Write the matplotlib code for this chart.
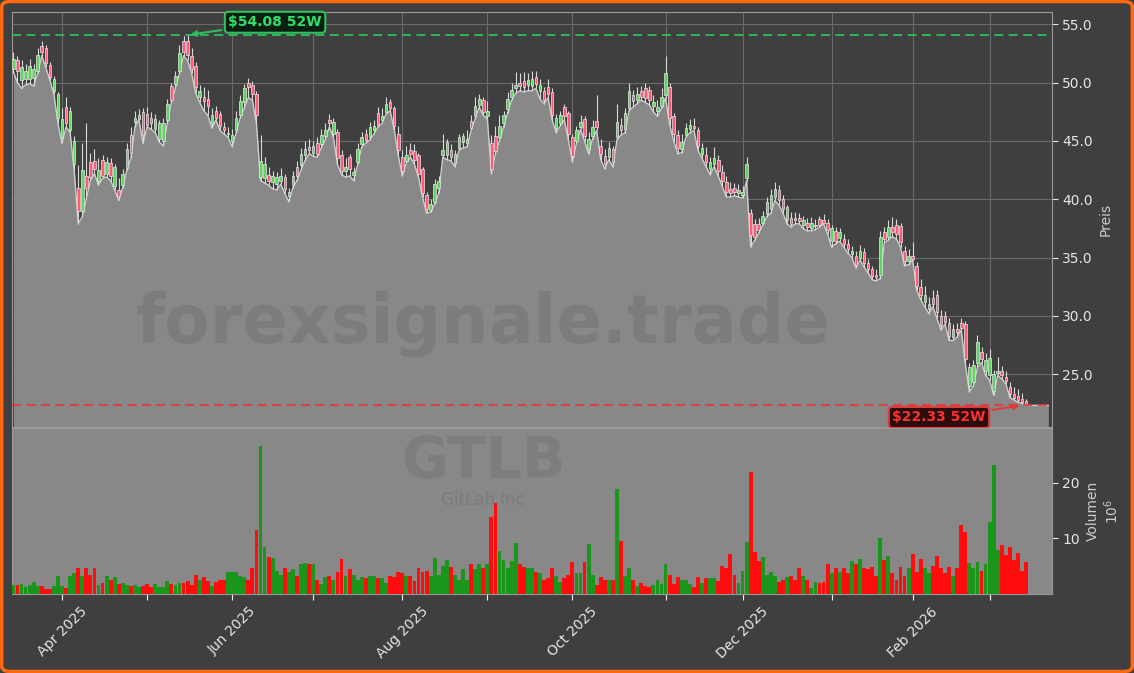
import numpy as np
import pandas as pd
import matplotlib
matplotlib.use("Agg")
import matplotlib.pyplot as plt
from matplotlib.patches import Rectangle, FancyBboxPatch
from matplotlib.ticker import FixedLocator, FormatStrFormatter

# ---------------- data ----------------
ticker = "GTLB"
company = "GitLab Inc"
watermark = "forexsignale.trade"
high_52w = 54.08
low_52w = 22.33

holidays = ["2025-04-18", "2025-05-26", "2025-06-19", "2025-07-04", "2025-09-01",
            "2025-11-27", "2025-12-25", "2026-01-01", "2026-01-19", "2026-02-16"]
dates = pd.bdate_range("2025-03-14", "2026-03-13")
dates = dates[~dates.isin(pd.to_datetime(holidays))]

low = [50.9, 50.0, 49.5, 49.8, 49.9, 49.7, 50.8, 52.3, 51.3, 50.2,
       49.0, 46.5, 44.8, 46.2, 45.7, 42.5, 37.9, 38.5, 40.0, 41.6,
       42.2, 41.2, 41.8, 41.9, 41.6, 40.8, 39.9, 41.0, 42.5, 43.5,
       46.2, 46.8, 44.8, 46.2, 46.0, 45.7, 44.9, 44.6, 46.5, 48.3,
       49.5, 50.8, 52.3, 51.9, 50.8, 49.1, 48.3, 47.6, 47.2, 46.1,
       46.8, 45.9, 45.6, 45.3, 44.5, 45.7, 47.0, 47.8, 48.7, 48.5,
       46.5, 41.6, 41.4, 41.2, 40.9, 40.8, 41.3, 40.5, 39.8, 41.0,
       41.6, 42.5, 43.3, 43.9, 43.7, 43.6, 44.4, 45.1, 46.2, 45.3,
       43.0, 42.1, 41.9, 42.0, 41.6, 43.0, 44.5, 44.8, 45.1, 45.6,
       46.2, 46.5, 47.3, 47.6, 46.0, 43.8, 42.0, 43.1, 43.6, 43.0,
       41.9, 40.2, 38.8, 38.9, 39.6, 40.5, 43.6, 43.4, 43.3, 42.8,
       44.2, 44.4, 44.5, 45.9, 46.9, 47.9, 47.2, 46.9, 42.2, 43.9,
       45.0, 46.2, 47.4, 48.5, 49.1, 49.3, 49.2, 49.3, 49.3, 49.5,
       48.6, 48.2, 48.7, 46.8, 45.7, 46.3, 46.8, 45.1, 43.2, 44.8,
       46.0, 45.0, 43.9, 45.2, 45.9, 43.4, 42.6, 43.4, 42.8, 45.1,
       45.5, 45.7, 47.6, 47.9, 48.2, 48.5, 48.3, 48.1, 47.5, 47.1,
       47.8, 48.7, 46.4, 45.0, 43.9, 44.0, 45.3, 45.7, 45.9, 44.2,
       43.5, 42.8, 42.1, 42.8, 42.0, 41.1, 40.2, 40.2, 40.3, 40.2,
       40.1, 41.6, 35.9, 36.5, 37.1, 37.8, 38.5, 38.8, 39.9, 39.5,
       38.8, 37.9, 37.6, 37.9, 37.9, 37.5, 37.3, 37.3, 37.4, 37.6,
       37.9, 37.0, 35.9, 36.2, 36.4, 35.9, 35.4, 35.0, 34.1, 34.8,
       34.2, 33.7, 33.1, 33.0, 33.2, 36.3, 36.5, 36.8, 36.6, 35.9,
       34.3, 34.4, 34.8, 32.2, 31.4, 30.8, 30.2, 30.8, 29.8, 28.8,
       29.3, 27.9, 27.9, 28.2, 28.8, 25.9, 23.5, 24.0, 25.6, 26.0,
       24.9, 24.5, 23.2, 24.9, 24.6, 24.2, 23.0, 22.8, 22.6, 22.5,
       22.33]

open_ = [51.2, 51.9, 50.2, 50.3, 50.3, 50.4, 51.0, 53.1, 53.0, 51.5,
         49.3, 47.0, 45.3, 47.9, 45.9, 43.0, 41.0, 39.0, 42.0, 43.2,
         43.3, 41.6, 43.4, 42.2, 43.1, 41.1, 40.8, 41.2, 42.7, 45.5,
         46.6, 46.9, 47.5, 47.3, 47.0, 46.0, 45.2, 45.0, 46.8, 49.7,
         49.9, 51.0, 53.6, 53.6, 52.3, 51.4, 48.8, 48.8, 48.6, 46.5,
         47.6, 47.3, 46.2, 45.6, 45.0, 45.9, 47.2, 48.3, 50.0, 49.8,
         49.0, 41.9, 41.8, 42.1, 41.5, 41.3, 41.6, 41.9, 40.3, 41.2,
         42.8, 42.9, 43.8, 44.5, 44.0, 44.8, 44.7, 45.4, 46.8, 45.6,
         45.8, 43.8, 42.4, 43.6, 42.1, 43.2, 44.7, 45.6, 45.3, 45.9,
         47.4, 46.8, 47.5, 48.3, 47.8, 45.6, 43.6, 43.3, 44.2, 44.1,
         43.8, 42.6, 40.4, 39.1, 39.8, 41.0, 43.8, 43.8, 44.2, 43.1,
         44.4, 44.9, 44.8, 46.7, 47.1, 48.1, 48.5, 47.1, 44.8, 45.4,
         45.3, 46.5, 47.7, 48.8, 49.5, 50.0, 50.1, 49.8, 49.7, 50.5,
         49.3, 49.3, 49.6, 49.2, 46.1, 46.5, 47.9, 47.4, 45.3, 45.0,
         46.2, 46.9, 44.3, 45.4, 46.7, 44.6, 43.7, 43.6, 44.3, 45.3,
         46.4, 46.0, 47.8, 48.9, 48.5, 49.3, 49.5, 49.4, 48.0, 47.6,
         48.0, 48.9, 49.6, 47.1, 45.5, 44.3, 45.5, 46.0, 46.3, 45.9,
         43.9, 43.8, 42.6, 43.0, 43.4, 42.3, 41.5, 40.9, 41.0, 40.5,
         40.4, 41.8, 38.8, 37.9, 37.9, 38.0, 38.7, 39.2, 40.2, 40.8,
         40.0, 38.2, 38.4, 38.4, 38.4, 37.8, 38.0, 37.5, 37.7, 38.3,
         38.2, 38.0, 36.4, 37.3, 36.7, 36.6, 36.2, 35.3, 35.1, 35.0,
         35.5, 34.5, 34.0, 33.5, 33.5, 37.2, 36.8, 37.6, 37.8, 37.7,
         35.6, 34.7, 35.1, 34.3, 32.5, 31.2, 30.6, 31.5, 31.8, 30.0,
         30.0, 29.4, 28.2, 28.9, 29.4, 29.3, 24.0, 24.3, 26.0, 26.9,
         25.3, 24.9, 23.6, 25.1, 25.3, 24.8, 23.9, 23.3, 23.1, 22.9,
         22.7]

close = [52.0, 51.0, 51.3, 51.0, 51.4, 51.2, 52.4, 52.6, 51.7, 50.5,
         50.3, 49.0, 46.9, 46.5, 47.6, 45.0, 39.0, 42.5, 41.0, 41.9,
         42.6, 42.5, 42.0, 43.2, 42.0, 42.8, 40.3, 42.2, 44.3, 44.0,
         47.0, 47.2, 45.5, 46.4, 46.5, 46.9, 46.5, 46.5, 48.2, 48.5,
         50.6, 52.5, 52.6, 52.4, 51.2, 49.6, 49.3, 48.4, 48.0, 47.2,
         47.0, 46.3, 45.9, 45.7, 45.5, 47.0, 48.4, 49.5, 49.6, 49.0,
         47.2, 43.3, 43.0, 41.6, 42.0, 41.9, 42.0, 40.9, 40.6, 42.0,
         42.0, 43.9, 44.3, 44.2, 44.6, 43.9, 45.5, 45.9, 46.5, 46.6,
         43.5, 42.4, 42.8, 42.6, 42.3, 44.3, 45.3, 45.1, 46.2, 46.3,
         46.4, 47.1, 48.2, 47.8, 46.3, 44.2, 42.4, 43.8, 43.9, 43.4,
         42.2, 40.5, 39.2, 39.6, 41.3, 41.6, 44.2, 44.9, 43.6, 43.9,
         45.3, 45.4, 45.2, 46.1, 48.0, 48.6, 47.5, 47.6, 42.6, 44.1,
         46.3, 47.2, 48.6, 49.4, 49.8, 49.7, 49.6, 50.2, 50.3, 49.9,
         49.8, 48.5, 49.0, 47.2, 47.0, 47.2, 47.1, 45.6, 43.7, 45.9,
         46.6, 45.4, 45.2, 46.2, 46.2, 43.9, 43.0, 44.4, 43.2, 46.6,
         45.9, 47.4, 49.3, 48.4, 49.0, 48.8, 48.7, 48.5, 48.3, 47.9,
         48.8, 50.8, 47.0, 45.6, 44.4, 44.9, 46.1, 46.4, 46.1, 44.6,
         44.4, 43.2, 43.2, 43.5, 42.4, 41.6, 40.6, 40.5, 40.6, 40.8,
         40.6, 43.0, 36.9, 36.8, 37.4, 38.6, 39.8, 40.4, 40.9, 39.9,
         39.2, 39.3, 37.9, 38.2, 38.1, 38.2, 37.6, 38.0, 37.8, 37.8,
         38.0, 37.4, 37.5, 36.4, 37.2, 36.2, 35.7, 35.6, 34.4, 35.6,
         34.5, 34.0, 33.4, 33.3, 36.8, 36.6, 37.6, 37.2, 37.0, 36.3,
         34.7, 35.1, 34.9, 32.6, 31.8, 31.8, 31.0, 31.0, 30.3, 29.2,
         29.5, 28.3, 28.9, 28.6, 29.0, 26.3, 25.6, 25.8, 27.8, 26.3,
         26.2, 26.4, 25.0, 25.3, 24.9, 24.4, 23.3, 23.0, 22.8, 22.6,
         22.4]

high = [52.6, 52.3, 51.9, 51.6, 52.0, 51.6, 53.0, 53.6, 53.2, 51.8,
        50.6, 49.2, 47.8, 48.8, 47.9, 45.4, 42.9, 44.8, 46.5, 44.0,
        44.3, 43.5, 43.8, 43.6, 43.5, 43.0, 41.8, 42.6, 44.8, 46.2,
        47.6, 47.7, 47.8, 47.9, 47.5, 47.3, 46.8, 47.0, 48.6, 50.0,
        51.0, 53.2, 54.0, 54.08, 53.0, 51.8, 49.8, 49.6, 49.4, 47.8,
        48.0, 47.6, 46.6, 46.2, 46.0, 47.6, 48.9, 49.9, 50.4, 50.1,
        49.3, 45.5, 43.6, 42.8, 42.4, 42.3, 42.7, 42.2, 41.0, 42.4,
        43.3, 44.4, 45.0, 45.2, 45.0, 45.3, 46.0, 46.5, 47.3, 47.0,
        46.0, 44.2, 43.5, 43.9, 42.8, 44.8, 45.8, 46.0, 46.6, 46.8,
        47.9, 47.8, 48.8, 48.6, 48.0, 46.3, 44.2, 44.6, 44.8, 44.7,
        44.0, 42.8, 40.6, 40.0, 41.7, 42.0, 45.6, 45.2, 44.7, 44.2,
        45.6, 45.7, 45.9, 47.2, 48.8, 49.0, 48.8, 48.4, 45.5, 46.3,
        47.2, 47.6, 49.2, 50.0, 50.9, 50.8, 50.9, 50.8, 51.0, 51.0,
        50.3, 49.6, 50.3, 49.5, 47.3, 47.6, 48.2, 47.6, 45.6, 46.3,
        47.2, 47.1, 45.8, 46.8, 48.9, 45.2, 44.3, 44.9, 44.6, 48.2,
        47.0, 47.8, 50.0, 49.4, 49.6, 49.7, 50.0, 49.7, 48.9, 48.5,
        49.5, 52.3, 50.0, 47.4, 45.9, 45.6, 46.5, 46.9, 47.0, 46.2,
        44.8, 44.5, 43.6, 44.5, 43.8, 42.9, 42.0, 41.5, 41.4, 41.3,
        41.1, 43.6, 39.2, 38.3, 38.4, 39.0, 40.2, 40.9, 41.5, 41.2,
        40.4, 39.5, 38.9, 38.9, 38.8, 38.6, 38.4, 38.5, 38.3, 38.6,
        38.7, 38.3, 37.8, 37.6, 37.5, 37.0, 36.6, 36.0, 35.6, 36.1,
        35.8, 34.9, 34.3, 34.0, 37.3, 37.6, 38.2, 38.5, 38.3, 38.0,
        36.0, 35.7, 36.3, 34.6, 33.2, 32.6, 31.6, 32.2, 32.2, 30.5,
        30.4, 29.8, 29.3, 29.4, 29.8, 29.6, 26.0, 26.2, 28.4, 27.3,
        26.8, 27.2, 25.4, 26.5, 25.7, 25.3, 24.3, 23.9, 23.7, 23.4,
        22.9]

volume = [1.6, 1.6, 1.75, 1.3, 1.6, 2.1, 1.4, 1.4, 0.9, 0.9,
          1.4, 3.2, 1.4, 1.0, 3.3, 3.7, 4.7, 3.3, 4.7, 3.5,
          4.7, 1.6, 1.9, 3.3, 2.6, 3.0, 1.75, 1.9, 1.6, 1.4,
          1.6, 1.2, 1.4, 1.75, 1.2, 1.75, 1.2, 1.2, 2.3, 1.75,
          1.6, 1.9, 1.9, 2.3, 1.6, 3.5, 2.6, 3.0, 2.3, 1.4,
          2.1, 2.5, 2.6, 4.0, 3.9, 3.9, 3.2, 3.0, 2.5, 4.7,
          11.4, 26.5, 8.4, 6.7, 6.5, 4.2, 3.5, 4.7, 3.9, 4.4,
          3.2, 5.4, 5.6, 5.3, 5.4, 2.5, 1.75, 3.0, 3.3, 2.5,
          4.0, 6.3, 3.3, 4.4, 3.5, 2.6, 3.0, 2.8, 3.3, 3.3,
          2.8, 2.8, 1.9, 3.2, 3.0, 3.9, 3.7, 3.3, 3.2, 2.3,
          4.6, 4.0, 4.2, 3.3, 6.5, 3.5, 5.1, 6.1, 4.9, 3.5,
          2.5, 4.4, 2.5, 5.3, 4.4, 5.4, 4.6, 5.4, 13.9, 16.3,
          7.7, 6.1, 4.7, 6.0, 9.1, 5.3, 4.9, 4.6, 4.6, 3.9,
          3.7, 2.6, 2.8, 4.7, 3.2, 2.1, 2.8, 3.5, 5.8, 3.7,
          3.7, 5.8, 8.9, 3.5, 1.6, 3.0, 2.6, 2.5, 2.5, 18.9,
          9.6, 3.2, 4.7, 2.6, 1.4, 1.9, 1.4, 1.2, 1.6, 2.5,
          1.75, 5.3, 3.5, 1.75, 3.0, 2.6, 2.6, 1.75, 1.2, 3.0,
          1.9, 2.8, 2.8, 2.8, 2.3, 5.1, 4.7, 7.2, 3.5, 1.9,
          4.2, 9.3, 21.9, 7.5, 6.0, 6.7, 3.5, 3.9, 3.2, 2.1,
          2.6, 3.0, 3.3, 2.5, 4.7, 3.3, 2.5, 1.1, 2.1, 1.9,
          2.1, 5.3, 3.7, 4.6, 4.0, 4.7, 3.7, 6.0, 5.3, 6.3,
          4.6, 4.4, 4.9, 3.3, 10.0, 6.1, 6.8, 3.7, 2.6, 4.9,
          3.2, 4.7, 7.2, 3.9, 6.3, 4.7, 3.7, 5.1, 6.8, 4.7,
          3.7, 4.9, 3.3, 4.6, 12.3, 11.1, 5.6, 4.7, 5.8, 4.2,
          5.3, 13.0, 23.2, 7.9, 8.8, 7.0, 8.4, 6.1, 7.4, 4.2,
          5.8]

labeled_months = [4, 6, 8, 10, 12, 2]

# ---------------- style ----------------
BG = "#3f3f3f"
FILL = "#888888"
TXT = "#e6e6e6"
UP = "#5cd65c"
DOWN = "#ff5a7a"
VUP = "#1a961a"
VDOWN = "#ff0d0d"

fig = plt.figure(figsize=(11.34, 6.73), dpi=100, facecolor=BG)
ax = fig.add_axes([12/1134, 1-427/673, 1040/1134, 415/673])
axv = fig.add_axes([12/1134, 1-594/673, 1040/1134, 166/673], sharex=ax)

n = len(close)
x = np.arange(n)
o = np.array(open_); c = np.array(close); h = np.array(high); l = np.array(low)
up = c >= o

# price panel
ax.set_facecolor(BG)
ax.set_ylim(20.48, 56.05)
ax.grid(True, color="#6a6a6a", lw=0.8, zorder=0)
ax.set_axisbelow(True)
fx = np.append(x, n + 4.5)
fl = np.append(l, l[-1])
ax.fill_between(fx, fl, 20.48, color=FILL, zorder=2, lw=0)
ax.plot(fx, fl, color="#cfcfcf", lw=1.0, zorder=3)

for i in range(n):
    col = UP if up[i] else DOWN
    ax.vlines(x[i], l[i], h[i], color="#d9d9d9", lw=0.8, zorder=4)
    b0 = min(o[i], c[i]); bh = max(abs(c[i] - o[i]), 0.12)
    ax.add_patch(Rectangle((x[i] - 0.32, b0), 0.64, bh, facecolor=col,
                           edgecolor="#e8e8e8", lw=0.5, zorder=5))

ax.axhline(high_52w, color="#2fbf5f", lw=1.3, ls=(0, (5, 3)), zorder=6)
ax.axhline(low_52w, color="#e03a3a", lw=1.3, ls=(0, (5, 3)), zorder=6)

ax.annotate(f"${high_52w:.2f} 52W", xy=(43, high_52w), xytext=(64.6, 55.17),
            ha="center", va="center", color="#2ee06a", fontsize=10, fontweight="bold",
            bbox=dict(boxstyle="round,pad=0.25", fc="#0b1f10", ec="#2fbf5f", lw=1.5),
            arrowprops=dict(arrowstyle="-|>", color="#2fbf5f", lw=1.5, mutation_scale=8),
            zorder=10)
ax.annotate(f"${low_52w:.2f} 52W", xy=(249.1, low_52w), xytext=(228.5, 21.3),
            ha="center", va="center", color="#ff3030", fontsize=10, fontweight="bold",
            bbox=dict(boxstyle="round,pad=0.25", fc="#2a0c0c", ec="#e03a3a", lw=1.5),
            arrowprops=dict(arrowstyle="-|>", color="#e03a3a", lw=1.5, mutation_scale=8),
            zorder=10)

ax.text(0.453, 0.248, watermark, transform=ax.transAxes, ha="center", va="center",
        fontsize=48, fontweight="bold", color="#555555", alpha=0.22, zorder=3.5)

ax.yaxis.tick_right()
ax.yaxis.set_label_position("right")
ax.yaxis.set_major_locator(FixedLocator([25, 30, 35, 40, 45, 50, 55]))
ax.yaxis.set_major_formatter(FormatStrFormatter("%.1f"))
ax.set_ylabel("Preis", color="#cccccc", fontsize=10, labelpad=4)
ax.tick_params(axis="y", colors=TXT, labelsize=10, length=4)
ax.tick_params(axis="x", colors="#bbbbbb", labelbottom=False, length=3)
for s in ax.spines.values():
    s.set_color("#9a9a9a"); s.set_linewidth(0.8)

# volume panel
axv.set_facecolor(FILL)
vcols = [VUP if u else VDOWN for u in up]
axv.bar(x, volume, width=0.95, color=vcols, zorder=3, lw=0)
axv.set_ylim(0, 29.8)
axv.yaxis.tick_right()
axv.yaxis.set_label_position("right")
axv.yaxis.set_major_locator(FixedLocator([10, 20]))
axv.yaxis.set_major_formatter(FormatStrFormatter("%d"))
axv.set_ylabel("Volumen\n$10^6$", color="#cccccc", fontsize=10, labelpad=4)
axv.tick_params(axis="y", colors=TXT, labelsize=10, length=4)
for s in axv.spines.values():
    s.set_color("#9a9a9a"); s.set_linewidth(0.8)
axv.text(0.453, 0.70, ticker, transform=axv.transAxes, ha="center", va="baseline",
         fontsize=41, fontweight="bold", color="#555555", alpha=0.2, zorder=1)
axv.text(0.453, 0.535, company, transform=axv.transAxes, ha="center", va="baseline",
         fontsize=12, color="#555555", alpha=0.25, zorder=1)

# month ticks
ser = pd.Series(np.arange(n), index=dates)
firsts = ser.groupby([dates.year, dates.month]).min()
tick_pos, tick_lab = [], []
for (yy, mm), idx in firsts.items():
    if idx == 0:
        continue
    tick_pos.append(idx)
    tick_lab.append(dates[idx].strftime("%b %Y") if mm in labeled_months else "")
axv.set_xticks(tick_pos)
axv.set_xticklabels(tick_lab, rotation=45, ha="center")
axv.tick_params(axis="x", colors="#f0f0f0", labelsize=10, length=4, labelcolor=TXT)
ax.set_xlim(-0.35, 256.4)

fig.patches.append(FancyBboxPatch((0.0015, 0.0022), 0.997, 0.9956,
                                  boxstyle="round,pad=0,rounding_size=0.008",
                                  transform=fig.transFigure, fill=False,
                                  edgecolor="#ff6a10", lw=2.5))

fig.savefig("out.png", dpi=100, facecolor=BG)
